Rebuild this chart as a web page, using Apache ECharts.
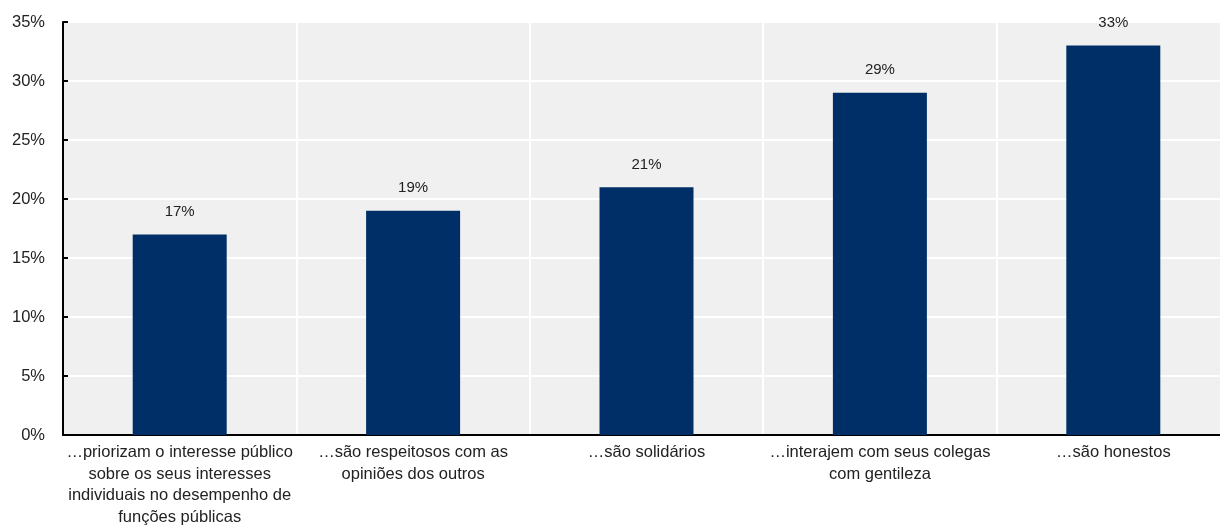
<!DOCTYPE html>
<html>
<head>
<meta charset="utf-8">
<script src="https://cdn.jsdelivr.net/npm/echarts@6/dist/echarts.min.js"></script>
<style>
  html, body { margin: 0; padding: 0; background: #fff; overflow: hidden; }
  #chart { width: 1240px; height: 530px; }
</style>
</head>
<body>
<div id="chart"></div>
<script>
// categorias (eixo x)
const categories = [
  '…priorizam o interesse público\nsobre os seus interesses\nindividuais no desempenho de\nfunções públicas',
  '…são respeitosos com as\nopiniões dos outros',
  '…são solidários',
  '…interajem com seus colegas\ncom gentileza',
  '…são honestos'
];
// valores em %
const values = [17, 19, 21, 29, 33];

const chart = echarts.init(document.getElementById('chart'));
chart.setOption({
  animation: false,
  textStyle: { fontFamily: '"Liberation Sans", Arial, sans-serif' },
  grid: {
    left: 63, top: 22, bottom: 95, right: 10,
    show: true, backgroundColor: '#f0f0f0', borderWidth: 0
  },
  xAxis: {
    type: 'category',
    data: categories,
    boundaryGap: true,
    axisLine: { lineStyle: { color: '#000', width: 2 } },
    axisTick: { inside: true, length: 5, lineStyle: { color: '#000', width: 2 } },
    axisLabel: { color: '#222', fontSize: 16.5, lineHeight: 21.5, margin: 7, interval: 0 },
    splitLine: { show: true, lineStyle: { color: '#fff', width: 2 } }
  },
  yAxis: {
    type: 'value',
    min: 0, max: 35, interval: 5,
    axisLine: { show: true, lineStyle: { color: '#000', width: 2 } },
    axisTick: { show: true, inside: true, length: 5, lineStyle: { color: '#000', width: 2 } },
    axisLabel: { color: '#222', fontSize: 16.5, margin: 18, formatter: '{value}%' },
    splitLine: { show: true, lineStyle: { color: '#fff', width: 2 } }
  },
  series: [{
    type: 'bar',
    data: values,
    barWidth: 94,
    itemStyle: { color: '#002f67' },
    label: {
      show: true, position: 'top', distance: 15,
      color: '#222', fontSize: 15, formatter: '{c}%'
    }
  }]
});
</script>
</body>
</html>
